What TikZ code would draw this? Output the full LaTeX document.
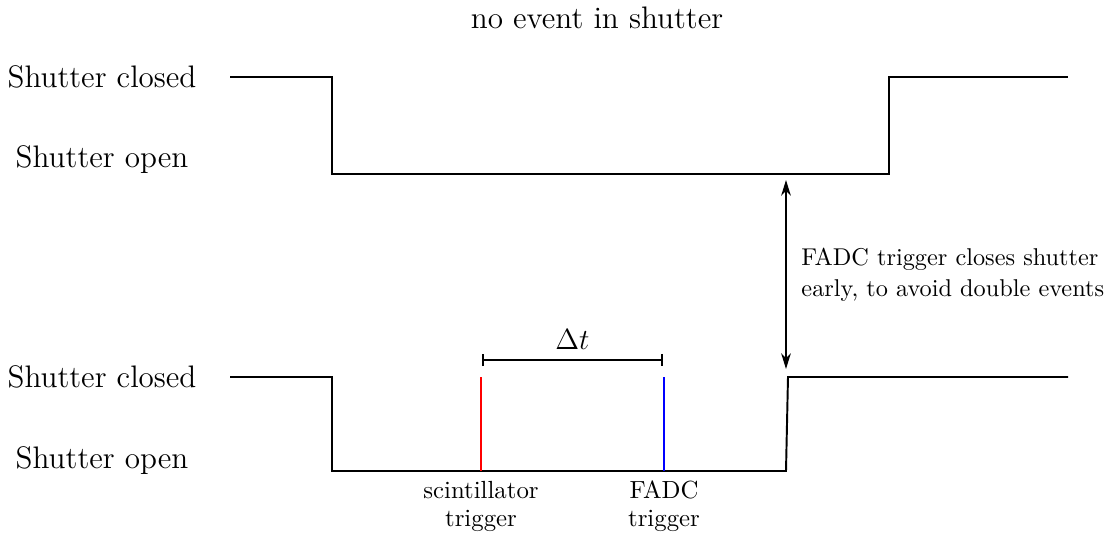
\documentclass[tikz,border=0pt]{standalone}
\usetikzlibrary{arrows.meta}
\begin{document}
\begin{tikzpicture}[x=0.4115pt,y=-0.4115pt,
  wave/.style={line width=0.8pt},
  biglabel/.style={font=\fontsize{12.8}{15}\selectfont, inner sep=0pt},
  smalllabel/.style={font=\fontsize{10.2}{11.5}\selectfont, inner sep=0pt, align=center},
  note/.style={font=\fontsize{10}{12.6}\selectfont, inner sep=0pt, align=left}]
\useasboundingbox (0,0) rectangle (1112,533);
% title
\node[biglabel] (title) at (597,18) {no event in shutter};
% level labels
\node[biglabel] (tc) at (102,77) {Shutter closed};
\node[biglabel] (to) at (102,160) {Shutter open};
\node[biglabel] (bc) at (102,377) {Shutter closed};
\node[biglabel] (bo) at (102,461) {Shutter open};
% top waveform
\draw[wave] (230,77) -- (332,77) -- (332,174) -- (889,174) -- (889,77) -- (1068,77);
% bottom waveform
\draw[wave] (230,377) -- (332,377) -- (332,471) -- (786,471) -- (788,377) -- (1068,377);
% triggers
\coordinate (s0) at (481,471); \coordinate (s1) at (481,377);
\coordinate (f0) at (664,471); \coordinate (f1) at (664,377);
\draw[red, line width=0.8pt] (s0) -- (s1);
\draw[blue, line width=0.8pt] (f0) -- (f1);
% delta t
\coordinate (d0) at (482,360); \coordinate (d1) at (663,360);
\draw[line width=0.8pt, {|[width=5pt]}-{|[width=5pt]}] (d0) -- node[above=3pt, font=\fontsize{12.8}{15}\selectfont, inner sep=1pt] (dt) {$\Delta t$} (d1);
% arrow
\coordinate (a0) at (786,180); \coordinate (a1) at (786,369);
\draw[line width=0.8pt, {Stealth[length=6.5pt,width=4pt]}-{Stealth[length=6.5pt,width=4pt]}] (a0) -- (a1);
\node[note, anchor=west] (fadcnote) at (801,275) {FADC trigger closes shutter\\early, to avoid double events};
% trigger labels
\node[smalllabel] (scl) at (481,506) {scintillator\\trigger};
\node[smalllabel] (fal) at (664,506) {FADC\\trigger};
\end{tikzpicture}
\end{document}
